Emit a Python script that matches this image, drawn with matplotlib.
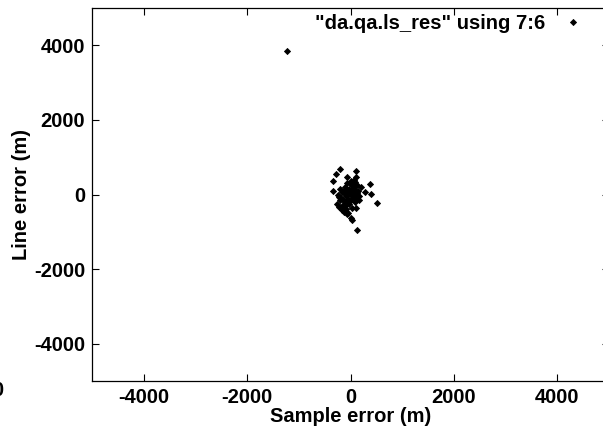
import numpy as np
import matplotlib.pyplot as plt

plt.rcParams['font.family'] = ['Liberation Sans', 'DejaVu Sans']
plt.rcParams['font.weight'] = 'bold'
plt.rcParams['axes.unicode_minus'] = False

# residuals (sample error, line error) in metres
sample_err = [-1220, -207, 116, -271, -64, 116, -335, 83, 374, 290, 387, 517, 97, 130,
              -258, -161, -64, 33, -329, -232,
              -100, -50, 0, 50, 100, -150, 20, -80, 60, 150, -30, 80, 0, -120, 120,
              -200, 40, -60, 100, -180, 30, -100, 70, 200, 170, -20, -250,
              -194, -140, -90, -40, 10, -220, -120,
              -20, 30, 70, -60, 10, 60, -110, 130, -40, 90, 0, -90, 160, -160, 40]
line_err = [3850, 696, 642, 562, 482, 482, 356, 329, 286, 62, 19, -233, -356, -963,
            -249, -428, -516, -696, 107, -72,
            200, 100, 0, 50, -100, -150, 250, -50, 150, 100, -250, -200, 350, 50, 250,
            150, -50, 300, 0, -100, -350, -300, 380, 200, -50, 150, 0,
            -160, -280, -390, -500, -620, -330, -470,
            60, 120, -30, 20, -150, 200, 120, 30, -120, -60, 270, -200, -150, 60, 30]
xticks = [-4000, -2000, 0, 2000, 4000]
yticks = [-4000, -2000, 0, 2000, 4000]

fs = 14.5

fig = plt.figure(figsize=(6.03, 4.29), dpi=100)
ax = fig.add_axes([92 / 603, 1 - 381 / 429, 517 / 603, 373 / 429])

ax.plot(sample_err, line_err, linestyle='none', marker='D', markersize=3.1,
        markeredgewidth=0.6, color='black', label='"da.qa.ls_res" using 7:6')

ax.set_xlim(-5000, 5000)
ax.set_ylim(-5000, 5000)
ax.set_xticks(xticks)
ax.set_yticks(yticks)
ax.tick_params(direction='in', length=5, width=0.8, top=True, right=True,
               labelsize=fs, pad=5)
for s in ax.spines.values():
    s.set_linewidth(0.9)

ax.set_xlabel('Sample error (m)', fontsize=fs, fontweight='bold', labelpad=0)
ax.set_ylabel('Line error (m)', fontsize=fs, fontweight='bold', labelpad=2)

ax.legend(loc='upper right', bbox_to_anchor=((588 - 92) / 517, 0.992),
          frameon=False, markerfirst=False, fontsize=fs, handlelength=1.2,
          handletextpad=0.75, borderaxespad=0, borderpad=0.15)

# clipped label fragment at the left edge of the original picture
fig.text(3 / 603, 1 - 391 / 429, '0', fontsize=fs, fontweight='bold',
         ha='right', va='center')

fig.savefig('out.png', dpi=100)
